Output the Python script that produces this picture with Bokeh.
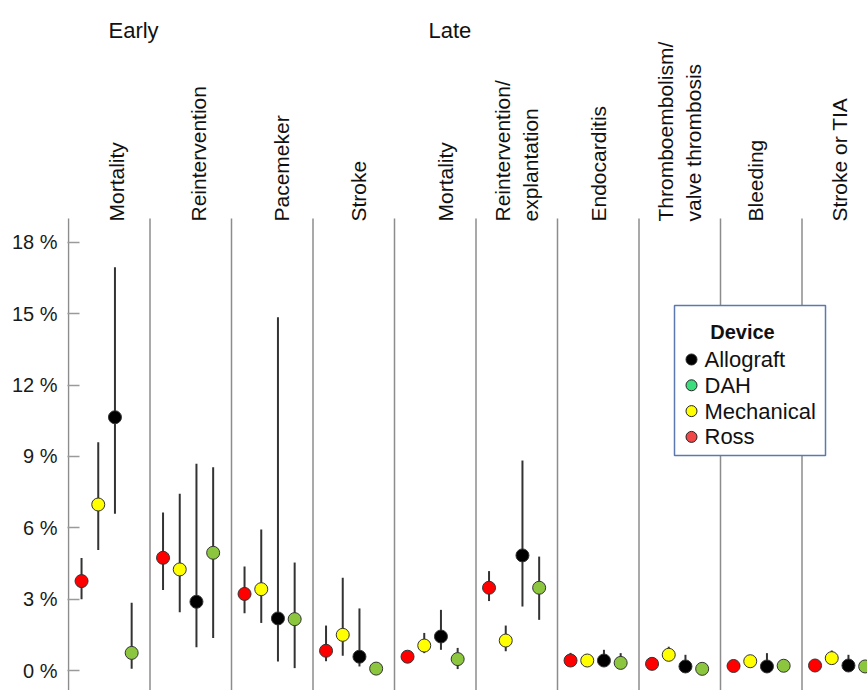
import numpy as np
from bokeh.plotting import figure
from bokeh.models import Range1d, FixedTicker, ColumnDataSource
from bokeh.core.properties import value
from bokeh.embed import file_html
from bokeh.resources import INLINE

# ---------------- data ----------------
OUTCOMES = ["Mortality", "Reintervention", "Pacemeker", "Stroke",
            "Mortality", "Reintervention/\nexplantation", "Endocarditis",
            "Thromboembolism/\nvalve thrombosis", "Bleeding", "Stroke or TIA"]
PHASES = ["Early", "Late"]
PHASE_FIRST_PANEL = [0, 4]

DEVICES = ["Ross", "Mechanical", "Allograft", "DAH"]   # left-to-right order in each panel

ross_est = [3.76, 4.74, 3.22, 0.83, 0.58, 3.48, 0.42, 0.28, 0.19, 0.21]
ross_lo  = [3.00, 3.39, 2.41, 0.39, 0.35, 2.92, 0.20, 0.07, 0.02, 0.08]
ross_hi  = [4.73, 6.64, 4.37, 1.89, 0.77, 4.18, 0.74, 0.45, 0.38, 0.42]

mech_est = [6.98, 4.25, 3.42, 1.50, 1.05, 1.26, 0.42, 0.66, 0.39, 0.52]
mech_lo  = [5.07, 2.45, 2.00, 0.62, 0.73, 0.81, 0.17, 0.45, 0.20, 0.28]
mech_hi  = [9.60, 7.43, 5.93, 3.90, 1.58, 1.89, 0.67, 1.00, 0.59, 0.84]

allo_est = [10.65, 2.89, 2.19, 0.58, 1.43, 4.84, 0.42, 0.17, 0.17, 0.21]
allo_lo  = [6.59, 0.98, 0.38, 0.17, 0.87, 2.69, 0.30, 0.10, 0.10, 0.10]
allo_hi  = [16.96, 8.69, 14.85, 2.61, 2.55, 8.83, 0.87, 0.66, 0.73, 0.66]

dah_est  = [0.74, 4.95, 2.16, 0.08, 0.48, 3.48, 0.32, 0.07, 0.20, 0.17]
dah_lo   = [0.07, 1.37, 0.10, 0.00, 0.06, 2.13, 0.08, 0.00, 0.10, 0.10]
dah_hi   = [2.85, 8.55, 4.54, 0.15, 0.95, 4.79, 0.73, 0.12, 0.28, 0.25]

EST = {"Ross": ross_est, "Mechanical": mech_est, "Allograft": allo_est, "DAH": dah_est}
LO = {"Ross": ross_lo, "Mechanical": mech_lo, "Allograft": allo_lo, "DAH": dah_lo}
HI = {"Ross": ross_hi, "Mechanical": mech_hi, "Allograft": allo_hi, "DAH": dah_hi}

POINT_COLORS = {"Ross": "#ff0000", "Mechanical": "#ffff00", "Allograft": "#000000", "DAH": "#8cc63f"}

LEGEND_TITLE = "Device"
LEGEND_ORDER = ["Allograft", "DAH", "Mechanical", "Ross"]
LEGEND_COLORS = {"Allograft": "#000000", "DAH": "#3ddc7c", "Mechanical": "#ffff00", "Ross": "#f04848"}

Y_TICKS = [0, 3, 6, 9, 12, 15, 18]
Y_TICK_LABELS = [f"{t} %" for t in Y_TICKS]

# ---------------- layout (pixels) ----------------
FONT = "Liberation Sans"
CANVAS_W, CANVAS_H = 867, 690
PAGE_OFF = 0
AXIS_PX = 68.0      # x of the y axis
PANEL_PX = 81.5     # width of one panel
ZERO_PY = 670.0     # y of 0 %
UNIT_PX = 23.78     # pixels per 1 %

def dx(px):
    return (px - AXIS_PX) / PANEL_PX

def dy(py):
    return (ZERO_PY - py) / UNIT_PX

FRAME_LEFT_PX = 67
x_range = Range1d(dx(FRAME_LEFT_PX), dx(PAGE_OFF + CANVAS_W))
y_range = Range1d(dy(PAGE_OFF + CANVAS_H), dy(PAGE_OFF))

p = figure(width=CANVAS_W, height=CANVAS_H, x_range=x_range, y_range=y_range,
           output_backend="svg", toolbar_location=None, title=None,
           x_axis_location=None, min_border_left=FRAME_LEFT_PX - PAGE_OFF,
           min_border_right=0, min_border_top=0, min_border_bottom=0,
           outline_line_color=None, background_fill_color="white",
           border_fill_color="white")
p.grid.visible = False

ax = p.yaxis[0]
ax.ticker = FixedTicker(ticks=Y_TICKS)
ax.major_label_overrides = {t: lab for t, lab in zip(Y_TICKS, Y_TICK_LABELS)}
ax.axis_line_color = None
ax.major_tick_in = 12
ax.major_tick_out = 0
ax.major_tick_line_color = "#9a9a9a"
ax.major_tick_line_width = 1.5
ax.minor_tick_line_color = None
ax.major_label_text_font = FONT
ax.major_label_text_font_size = "20px"
ax.major_label_text_color = "#1a1a1a"
ax.major_label_standoff = 10

n_panels = len(OUTCOMES)
top_val = dy(218)

# axis line + panel separators
sep_x = list(range(n_panels))
p.segment(x0=sep_x, y0=[y_range.start - 1] * n_panels, x1=sep_x, y1=[top_val] * n_panels,
          line_color="#8c8c8c", line_width=1.5)

# error bars and points
OFFSETS = [0.16 + 0.205 * k for k in range(len(DEVICES))]
for k, dev in enumerate(DEVICES):
    xs = np.arange(n_panels) + OFFSETS[k]
    src = ColumnDataSource(dict(x=xs, est=EST[dev], lo=LO[dev], hi=HI[dev]))
    p.segment(x0="x", y0="lo", x1="x", y1="hi", source=src, line_color="#333333", line_width=2)
for k, dev in enumerate(DEVICES):
    xs = np.arange(n_panels) + OFFSETS[k]
    src = ColumnDataSource(dict(x=xs, est=EST[dev]))
    p.scatter(x="x", y="est", source=src, size=13, fill_color=POINT_COLORS[dev],
              line_color="#333333", line_width=1)

# column headers (rotated)
HEADER_NUDGE_PX = [7, 8, 9, 5, 10, 0, 0, 0, -6, -3]
hx = [i + 0.5 + HEADER_NUDGE_PX[i] / PANEL_PX for i in range(n_panels)]
p.text(x=hx, y=[dy(221)] * n_panels, text=OUTCOMES, angle=np.pi / 2,
       text_align="left", text_baseline="middle", text_font=value(FONT),
       text_font_size="21px", text_color="#111111")

# phase labels
phase_x = [dx(108), dx(428)]
p.text(x=phase_x, y=[dy(30)] * 2, text=PHASES, text_align="left",
       text_baseline="alphabetic", text_font=value(FONT), text_font_size="22px",
       text_color="#111111")

# legend
p.quad(left=[dx(674)], right=[dx(825)], top=[dy(305)], bottom=[dy(455)],
       fill_color="white", line_color="#5b78b0", line_width=1.5)
p.text(x=[dx(742)], y=[dy(331.5)], text=[LEGEND_TITLE], text_align="center",
       text_baseline="alphabetic", text_font=value(FONT), text_font_size="20px",
       text_font_style="bold", text_color="#111111")
row_y = [dy(359 + 25.8 * i) for i in range(len(LEGEND_ORDER))]
p.scatter(x=[dx(691)] * len(LEGEND_ORDER), y=row_y, size=11,
          fill_color=[LEGEND_COLORS[d] for d in LEGEND_ORDER],
          line_color="#222222", line_width=1)
p.text(x=[dx(704)] * len(LEGEND_ORDER), y=row_y, text=LEGEND_ORDER,
       text_align="left", text_baseline="middle", text_font=value(FONT),
       text_font_size="22px", text_color="#111111")

open("out.html", "w").write(file_html(p, INLINE))
